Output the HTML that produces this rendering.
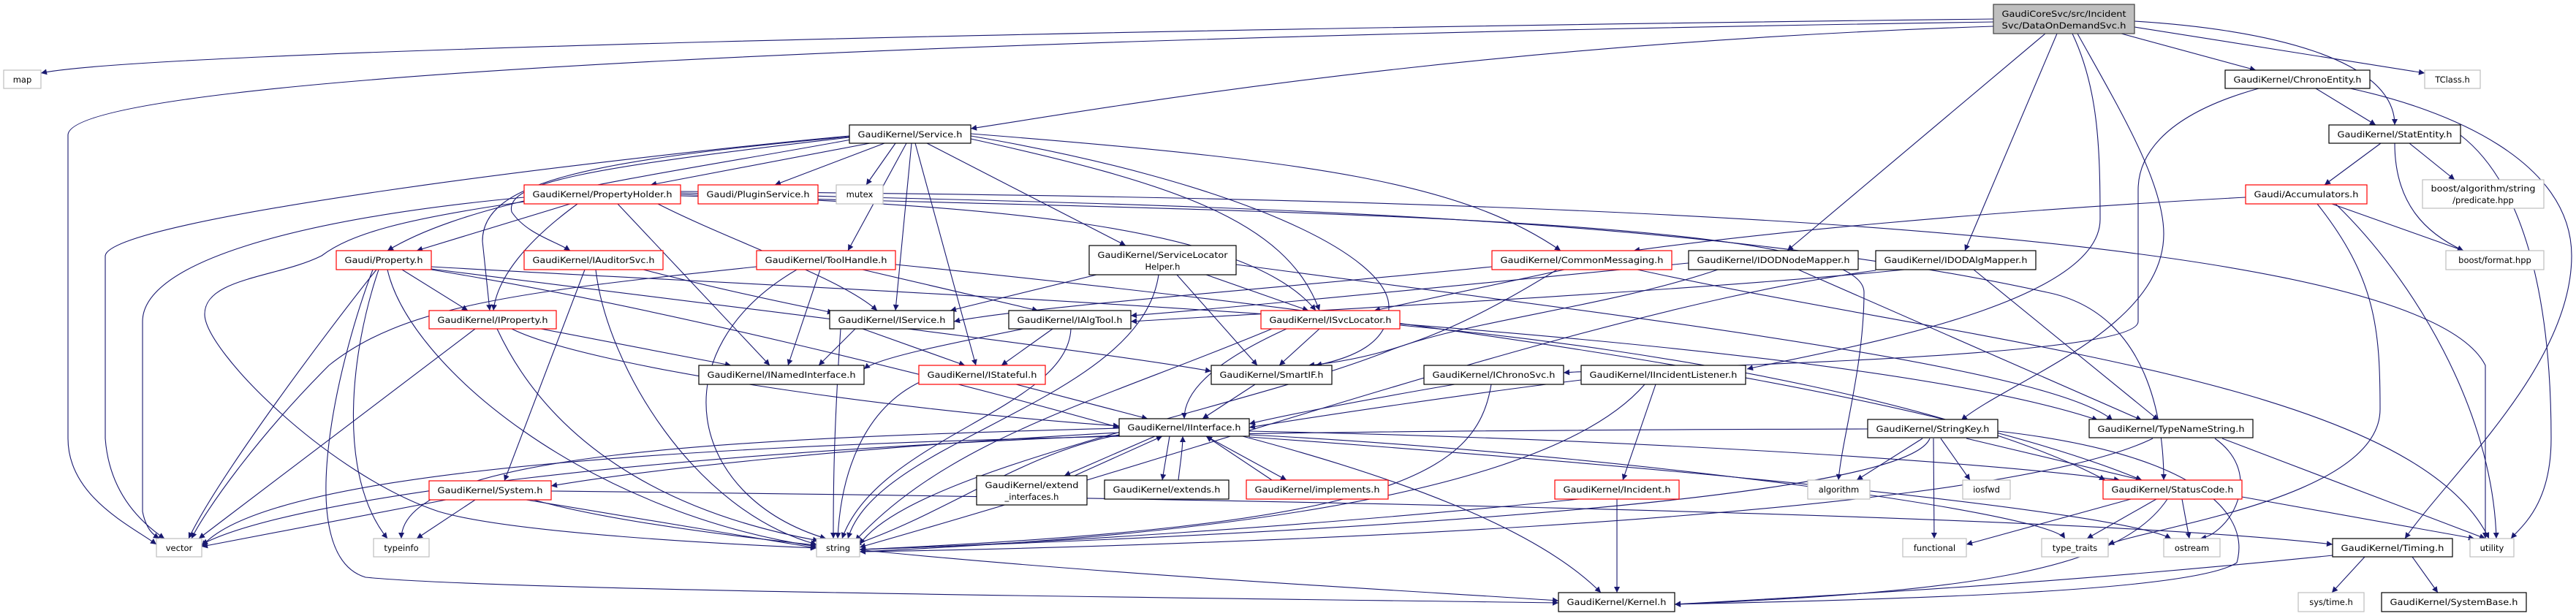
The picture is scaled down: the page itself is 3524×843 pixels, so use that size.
<!DOCTYPE html>
<html><head><meta charset="utf-8"><style>
html,body{margin:0;padding:0;background:#fff;}
svg{display:block;}
text{font-family:"DejaVu Sans","Liberation Sans",sans-serif;font-size:11.5px;fill:#000;text-anchor:middle;}
.e{fill:none;stroke:#191970;stroke-width:1.1;marker-end:url(#a);}
.b{fill:#fff;stroke:#000;stroke-width:1.2;}
.r{fill:#fff;stroke:#ff0000;stroke-width:1.2;}
.g{fill:#fff;stroke:#bfbfbf;stroke-width:1.2;}
</style></head><body>
<svg width="3524" height="843" viewBox="0 0 3524 843" xmlns="http://www.w3.org/2000/svg">
<defs><marker id="a" viewBox="0 0 10 10" refX="10" refY="5" markerWidth="11" markerHeight="8" orient="auto" markerUnits="userSpaceOnUse"><path d="M0,0 L10,5 L0,10 z" fill="#191970"/></marker></defs>
<g>
<path class="e" d="M2727,26 C1500,40 200,70 56,100"/>
<path class="e" d="M2727,30 C1400,50 93,100 93,185 L93,600 C93,680 180,720 214,745"/>
<path class="e" d="M2727,36 C2000,60 1500,150 1328,176"/>
<path class="e" d="M2798,46 L2445,343"/>
<path class="e" d="M2814,46 L2688,343"/>
<path class="e" d="M2835,46 C2870,120 2873,200 2873,300 C2873,420 2500,480 2390,505"/>
<path class="e" d="M2842,46 C2900,150 2960,250 2960,320 C2960,450 2750,520 2683,575"/>
<path class="e" d="M2902,46 L3086,96"/>
<path class="e" d="M2920,37 L3317,100"/>
<path class="e" d="M2920,29 C3100,40 3276,80 3276,171"/>
<path class="e" d="M3168,121 L3250,171"/>
<path class="e" d="M3090,121 C2950,160 2925,220 2925,260 L2925,440 C2925,490 2300,500 2139,510"/>
<path class="e" d="M3215,121 C3350,150 3518,220 3518,350 C3518,500 3350,650 3290,737"/>
<path class="e" d="M3257,196 L3180,253"/>
<path class="e" d="M3296,196 L3358,246"/>
<path class="e" d="M3276,196 C3276,280 3320,320 3370,343"/>
<path class="e" d="M3366,185 C3450,250 3490,400 3490,600 C3490,690 3450,720 3435,737"/>
<path class="e" d="M3072,270 C2700,290 2400,320 2235,343"/>
<path class="e" d="M3190,279 L3370,343"/>
<path class="e" d="M3195,279 C3300,380 3410,560 3415,737"/>
<path class="e" d="M3170,279 C3250,380 3256,450 3256,560 C3256,680 2950,720 2884,745"/>
<path class="e" d="M2140,369 L1880,425"/>
<path class="e" d="M2041,365 C1800,390 1400,420 1305,440"/>
<path class="e" d="M2130,369 C2000,450 1900,490 1790,500"/>
<path class="e" d="M2240,369 C2700,470 3300,520 3405,737"/>
<path class="e" d="M2310,360 C2000,390 1700,420 1547,432"/>
<path class="e" d="M2460,369 L2930,575"/>
<path class="e" d="M2350,369 C2200,420 2000,440 1900,480 C1700,560 1250,640 1176,745"/>
<path class="e" d="M2605,369 C2300,400 1700,430 1547,440"/>
<path class="e" d="M2700,369 L2953,575"/>
<path class="e" d="M2566,370 C2200,420 1700,600 1176,749"/>
<path class="e" d="M1190,196 L890,253"/>
<path class="e" d="M1210,196 L1060,253"/>
<path class="e" d="M1225,196 L1185,253"/>
<path class="e" d="M1240,196 L1160,343"/>
<path class="e" d="M1170,190 C900,240 650,270 530,343"/>
<path class="e" d="M1162,188 C800,230 690,250 700,290 C720,320 760,330 780,343"/>
<path class="e" d="M1162,187 C800,220 660,250 660,330 L670,425"/>
<path class="e" d="M1247,196 L1225,425"/>
<path class="e" d="M1252,196 L1335,500"/>
<path class="e" d="M1268,196 L1540,336"/>
<path class="e" d="M1328,190 C1600,250 1760,300 1805,425"/>
<path class="e" d="M1328,186 C1700,250 1900,350 1900,420 C1900,470 1850,490 1800,500"/>
<path class="e" d="M1328,183 C1800,220 2000,250 2135,343"/>
<path class="e" d="M1162,186 C800,220 150,300 144,350 L144,600 C150,680 200,720 225,737"/>
<path class="e" d="M780,279 L570,343"/>
<path class="e" d="M790,279 C720,330 680,380 675,425"/>
<path class="e" d="M845,279 L1053,500"/>
<path class="e" d="M717,270 C400,300 195,360 195,440 L195,700 C200,725 210,732 218,737"/>
<path class="e" d="M717,276 C550,300 480,320 440,350 C380,380 280,380 280,430 C280,480 450,650 600,700 C700,730 1000,745 1117,750"/>
<path class="e" d="M931,266 C1300,280 1700,300 1800,425"/>
<path class="e" d="M931,264 C1600,280 2300,290 2800,400 C2950,430 2960,600 2960,657"/>
<path class="e" d="M931,262 C2000,270 3300,300 3400,500 L3400,737"/>
<path class="e" d="M931,268 C1800,290 2550,300 2550,400 C2550,500 2520,600 2515,657"/>
<path class="e" d="M900,279 C1000,330 1150,380 1200,425"/>
<path class="e" d="M550,369 L640,425"/>
<path class="e" d="M590,368 C1000,420 1500,480 1657,508"/>
<path class="e" d="M590,365 C1200,400 2500,450 2870,575"/>
<path class="e" d="M590,369 C900,420 1300,520 1531,585"/>
<path class="e" d="M515,369 C450,450 300,650 258,737"/>
<path class="e" d="M518,369 C480,480 460,650 530,737"/>
<path class="e" d="M530,369 C560,500 800,700 1117,748"/>
<path class="e" d="M510,369 C460,500 400,760 500,790 C700,810 1800,820 2132,825"/>
<path class="e" d="M800,369 L690,658"/>
<path class="e" d="M815,369 C830,500 950,700 1117,745"/>
<path class="e" d="M880,369 C1000,400 1100,420 1140,428"/>
<path class="e" d="M1035,365 C700,400 550,420 450,500 C350,600 280,700 262,737"/>
<path class="e" d="M1090,369 C900,480 940,680 1130,737"/>
<path class="e" d="M1122,369 L1078,500"/>
<path class="e" d="M1180,369 L1420,425"/>
<path class="e" d="M1225,362 C1800,420 2600,520 2930,657"/>
<path class="e" d="M740,450 L1000,500"/>
<path class="e" d="M650,450 L272,737"/>
<path class="e" d="M680,450 C750,600 900,700 1120,740"/>
<path class="e" d="M700,450 C800,500 1200,560 1531,583"/>
<path class="e" d="M1180,450 L1320,500"/>
<path class="e" d="M1170,450 L1120,500"/>
<path class="e" d="M1150,450 C1140,600 1140,680 1140,737"/>
<path class="e" d="M1400,450 C1300,470 1200,490 1182,505"/>
<path class="e" d="M1440,450 L1370,500"/>
<path class="e" d="M1465,450 C1460,560 1200,600 1152,737"/>
<path class="e" d="M1500,376 L1300,425"/>
<path class="e" d="M1650,376 L1790,425"/>
<path class="e" d="M1610,376 L1720,500"/>
<path class="e" d="M1585,376 C1560,550 1200,600 1160,737"/>
<path class="e" d="M1691,362 C2200,430 2800,500 2890,575"/>
<path class="e" d="M1760,450 C1650,500 1620,540 1620,573"/>
<path class="e" d="M1805,450 L1750,500"/>
<path class="e" d="M1740,450 C1500,550 1300,600 1170,740"/>
<path class="e" d="M1915,445 C2300,480 2700,560 2880,657"/>
<path class="e" d="M1390,526 L1570,573"/>
<path class="e" d="M1260,522 C1180,560 1150,650 1146,737"/>
<path class="e" d="M1717,526 L1645,573"/>
<path class="e" d="M1990,526 C1850,550 1750,570 1709,580"/>
<path class="e" d="M2040,526 C2020,650 1900,720 1176,752"/>
<path class="e" d="M2163,520 C2000,540 1800,570 1709,585"/>
<path class="e" d="M2265,526 L2220,657"/>
<path class="e" d="M2250,526 C2100,700 1500,740 1176,755"/>
<path class="e" d="M1580,597 L1456,651"/>
<path class="e" d="M1600,597 L1590,657"/>
<path class="e" d="M1650,597 L1760,657"/>
<path class="e" d="M1470,651 L1590,597"/>
<path class="e" d="M1612,657 C1615,630 1618,615 1618,597"/>
<path class="e" d="M1740,657 L1650,597"/>
<path class="e" d="M1531,592 C1200,610 900,640 754,665"/>
<path class="e" d="M1700,597 C1900,650 2100,720 2190,811"/>
<path class="e" d="M1709,590 C2200,600 2700,630 2900,657"/>
<path class="e" d="M1531,586 C1000,600 550,620 549,737"/>
<path class="e" d="M1531,595 C1400,620 1300,700 1170,745"/>
<path class="e" d="M1531,596 C900,620 400,680 276,745"/>
<path class="e" d="M1709,595 C2200,620 2800,700 2825,737"/>
<path class="e" d="M1709,598 C2300,640 2900,700 2970,737"/>
<path class="e" d="M2212,683 L2212,811"/>
<path class="e" d="M2160,683 C1800,720 1400,745 1176,752"/>
<path class="e" d="M610,684 L276,748"/>
<path class="e" d="M650,684 L570,737"/>
<path class="e" d="M720,684 L1117,750"/>
<path class="e" d="M730,684 C1000,760 1800,800 2132,822"/>
<path class="e" d="M754,672 C1500,680 2800,700 3191,745"/>
<path class="e" d="M2630,600 L2540,657"/>
<path class="e" d="M2655,600 L2695,657"/>
<path class="e" d="M2645,600 L2646,737"/>
<path class="e" d="M2690,600 L2930,657"/>
<path class="e" d="M2640,600 C2600,700 1500,740 1176,752"/>
<path class="e" d="M2555,587 C1500,590 400,600 276,748"/>
<path class="e" d="M2733,590 C3000,620 3080,700 3060,770 C3000,810 2600,820 2291,827"/>
<path class="e" d="M2945,600 C2700,720 1500,750 1176,755"/>
<path class="e" d="M3030,600 C3100,650 3050,730 3010,737"/>
<path class="e" d="M3040,600 L3400,737"/>
<path class="e" d="M2915,683 L2690,745"/>
<path class="e" d="M2950,683 L2855,737"/>
<path class="e" d="M2985,683 L2995,737"/>
<path class="e" d="M2965,683 C2900,780 2700,810 2291,827"/>
<path class="e" d="M3067,680 L3385,737"/>
<path class="e" d="M3235,762 L3190,811"/>
<path class="e" d="M3300,762 L3335,811"/>
<path class="e" d="M3191,760 C2800,800 2500,815 2291,827"/>
</g>
<g>
<rect x="2727" y="6" width="193" height="40" fill="#bfbfbf" stroke="#404040" stroke-width="1.2"/>
<text x="2823.5" y="23" textLength="170" lengthAdjust="spacingAndGlyphs">GaudiCoreSvc/src/Incident</text>
<text x="2823.5" y="39" textLength="170" lengthAdjust="spacingAndGlyphs">Svc/DataOnDemandSvc.h</text>

<rect class="g" x="5" y="96" width="51" height="25"/><text x="30.5" y="113">map</text>
<rect class="g" x="214" y="737" width="62" height="25"/><text x="245" y="754">vector</text>
<rect class="g" x="511" y="737" width="76" height="25"/><text x="549" y="754">typeinfo</text>
<rect class="g" x="1117" y="737" width="59" height="25"/><text x="1146.5" y="754">string</text>
<rect class="r" x="717" y="253" width="214" height="26"/><text x="824" y="270" textLength="191" lengthAdjust="spacingAndGlyphs">GaudiKernel/PropertyHolder.h</text>
<rect class="r" x="955" y="253" width="164" height="26"/><text x="1037" y="270" textLength="141" lengthAdjust="spacingAndGlyphs">Gaudi/PluginService.h</text>
<rect class="g" x="1144" y="253" width="64" height="26"/><text x="1176" y="270">mutex</text>
<rect class="b" x="1162" y="171" width="166" height="25"/><text x="1245" y="188" textLength="143" lengthAdjust="spacingAndGlyphs">GaudiKernel/Service.h</text>
<rect class="r" x="460" y="343" width="130" height="26"/><text x="525" y="360" textLength="107" lengthAdjust="spacingAndGlyphs">Gaudi/Property.h</text>
<rect class="r" x="717" y="343" width="190" height="26"/><text x="812" y="360" textLength="167" lengthAdjust="spacingAndGlyphs">GaudiKernel/IAuditorSvc.h</text>
<rect class="r" x="1035" y="343" width="190" height="26"/><text x="1130" y="360" textLength="167" lengthAdjust="spacingAndGlyphs">GaudiKernel/ToolHandle.h</text>
<rect class="r" x="587" y="425" width="174" height="25"/><text x="674" y="442" textLength="151" lengthAdjust="spacingAndGlyphs">GaudiKernel/IProperty.h</text>
<rect class="b" x="1135" y="425" width="170" height="25"/><text x="1220" y="442" textLength="147" lengthAdjust="spacingAndGlyphs">GaudiKernel/IService.h</text>
<rect class="b" x="956" y="500" width="226" height="26"/><text x="1069" y="517" textLength="203" lengthAdjust="spacingAndGlyphs">GaudiKernel/INamedInterface.h</text>
<rect class="r" x="587" y="658" width="167" height="26"/><text x="670.5" y="675" textLength="144" lengthAdjust="spacingAndGlyphs">GaudiKernel/System.h</text>
<rect class="b" x="1490" y="336" width="201" height="40"/>
<text x="1590.5" y="353" textLength="178" lengthAdjust="spacingAndGlyphs">GaudiKernel/ServiceLocator</text>
<text x="1590.5" y="369">Helper.h</text>
<rect class="r" x="2041" y="343" width="246" height="26"/><text x="2164" y="360" textLength="223" lengthAdjust="spacingAndGlyphs">GaudiKernel/CommonMessaging.h</text>
<rect class="b" x="2310" y="343" width="232" height="26"/><text x="2426" y="360" textLength="209" lengthAdjust="spacingAndGlyphs">GaudiKernel/IDODNodeMapper.h</text>
<rect class="b" x="1380" y="425" width="167" height="25"/><text x="1463.5" y="442" textLength="144" lengthAdjust="spacingAndGlyphs">GaudiKernel/IAlgTool.h</text>
<rect class="r" x="1725" y="425" width="190" height="25"/><text x="1820" y="442" textLength="167" lengthAdjust="spacingAndGlyphs">GaudiKernel/ISvcLocator.h</text>
<rect class="r" x="1257" y="500" width="173" height="26"/><text x="1343.5" y="517" textLength="150" lengthAdjust="spacingAndGlyphs">GaudiKernel/IStateful.h</text>
<rect class="b" x="1657" y="500" width="165" height="26"/><text x="1739.5" y="517" textLength="142" lengthAdjust="spacingAndGlyphs">GaudiKernel/SmartIF.h</text>
<rect class="b" x="1948" y="500" width="191" height="26"/><text x="2043.5" y="517" textLength="168" lengthAdjust="spacingAndGlyphs">GaudiKernel/IChronoSvc.h</text>
<rect class="b" x="2163" y="500" width="225" height="26"/><text x="2275.5" y="517" textLength="202" lengthAdjust="spacingAndGlyphs">GaudiKernel/IIncidentListener.h</text>
<rect class="b" x="1531" y="573" width="178" height="24"/><text x="1620" y="589" textLength="155" lengthAdjust="spacingAndGlyphs">GaudiKernel/IInterface.h</text>
<rect class="b" x="1336" y="651" width="151" height="40"/>
<text x="1411.5" y="668" textLength="128" lengthAdjust="spacingAndGlyphs">GaudiKernel/extend</text>
<text x="1411.5" y="684">_interfaces.h</text>
<rect class="b" x="1511" y="657" width="170" height="26"/><text x="1596" y="674" textLength="147" lengthAdjust="spacingAndGlyphs">GaudiKernel/extends.h</text>
<rect class="r" x="1705" y="657" width="194" height="26"/><text x="1802" y="674" textLength="171" lengthAdjust="spacingAndGlyphs">GaudiKernel/implements.h</text>
<rect class="r" x="2127" y="657" width="170" height="26"/><text x="2212" y="674" textLength="147" lengthAdjust="spacingAndGlyphs">GaudiKernel/Incident.h</text>
<rect class="b" x="2132" y="811" width="159" height="26"/><text x="2211.5" y="828" textLength="136" lengthAdjust="spacingAndGlyphs">GaudiKernel/Kernel.h</text>
<rect class="b" x="3044" y="96" width="198" height="25"/><text x="3143" y="113" textLength="175" lengthAdjust="spacingAndGlyphs">GaudiKernel/ChronoEntity.h</text>
<rect class="g" x="3317" y="96" width="76" height="25"/><text x="3355" y="113">TClass.h</text>
<rect class="b" x="3186" y="171" width="180" height="25"/><text x="3276" y="188" textLength="157" lengthAdjust="spacingAndGlyphs">GaudiKernel/StatEntity.h</text>
<rect class="r" x="3072" y="253" width="166" height="26"/><text x="3155" y="270" textLength="143" lengthAdjust="spacingAndGlyphs">Gaudi/Accumulators.h</text>
<rect class="g" x="3314" y="246" width="166" height="39"/>
<text x="3397" y="262" textLength="143" lengthAdjust="spacingAndGlyphs">boost/algorithm/string</text>
<text x="3397" y="278">/predicate.hpp</text>
<rect class="b" x="2566" y="343" width="219" height="26"/><text x="2675.5" y="360" textLength="196" lengthAdjust="spacingAndGlyphs">GaudiKernel/IDODAlgMapper.h</text>
<rect class="g" x="3346" y="343" width="134" height="26"/><text x="3413" y="360">boost/format.hpp</text>
<rect class="b" x="2555" y="574" width="178" height="25"/><text x="2644" y="591" textLength="155" lengthAdjust="spacingAndGlyphs">GaudiKernel/StringKey.h</text>
<rect class="b" x="2858" y="574" width="224" height="25"/><text x="2970" y="591" textLength="201" lengthAdjust="spacingAndGlyphs">GaudiKernel/TypeNameString.h</text>
<rect class="g" x="2473" y="657" width="85" height="26"/><text x="2515.5" y="674">algorithm</text>
<rect class="g" x="2685" y="657" width="65" height="26"/><text x="2717.5" y="674">iosfwd</text>
<rect class="r" x="2877" y="657" width="190" height="26"/><text x="2972" y="674" textLength="167" lengthAdjust="spacingAndGlyphs">GaudiKernel/StatusCode.h</text>
<rect class="g" x="2603" y="737" width="87" height="25"/><text x="2646.5" y="754">functional</text>
<rect class="g" x="2793" y="737" width="91" height="25"/><text x="2838.5" y="754">type_traits</text>
<rect class="g" x="2960" y="737" width="77" height="25"/><text x="2998.5" y="754">ostream</text>
<rect class="b" x="3191" y="737" width="164" height="25"/><text x="3273" y="754" textLength="141" lengthAdjust="spacingAndGlyphs">GaudiKernel/Timing.h</text>
<rect class="g" x="3379" y="737" width="60" height="25"/><text x="3409" y="754">utility</text>
<rect class="g" x="3144" y="811" width="90" height="26"/><text x="3189" y="828">sys/time.h</text>
<rect class="b" x="3258" y="811" width="198" height="26"/><text x="3357" y="828" textLength="175" lengthAdjust="spacingAndGlyphs">GaudiKernel/SystemBase.h</text>
</g>
</svg>
</body></html>
